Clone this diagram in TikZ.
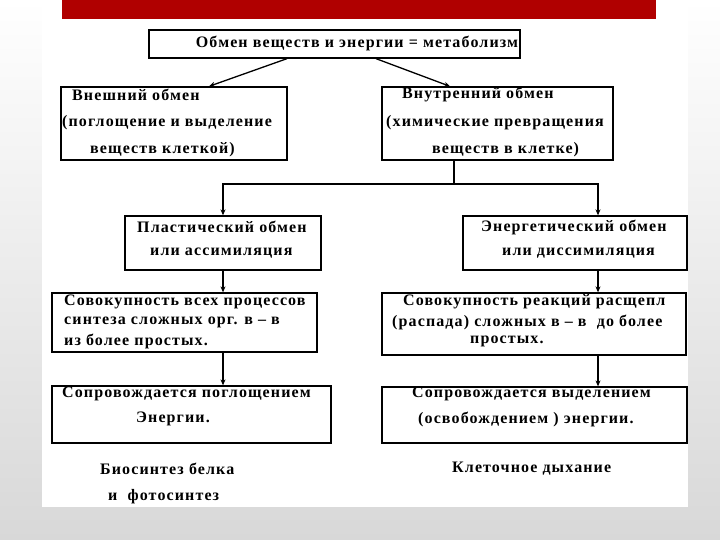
\documentclass[tikz,border=0pt]{standalone}
\usepackage{fontspec}
\setmainfont{Liberation Serif}
\newfontfamily\boxfont[LetterSpace=7]{Liberation Serif}
\usepackage{xcolor}
\usetikzlibrary{positioning,arrows.meta,calc}
\definecolor{slidered}{RGB}{176,0,0}
\definecolor{slidegray}{RGB}{216,216,216}
\newcommand{\lbl}{\boxfont\bfseries\fontsize{16}{18}\selectfont}

\begin{document}
\begin{tikzpicture}[x=1pt, y=-1pt,
		box/.style={draw, line width=1.3pt, inner sep=0pt},
		txt/.style={anchor=west, inner sep=0pt, font=\lbl},
		arr/.style={line width=1.3pt, -{Stealth[length=6pt, width=5pt]}},
		link/.style={line width=1.3pt}]
		\useasboundingbox (0,0) rectangle (720,540);
		% slide background
		\shade[top color=white, bottom color=slidegray] (0,0) rectangle (720,540);
		\fill[white] (42,0) rectangle (688,507);
		\fill[slidered] (62,0) rectangle (656,19);
		% boxes
		\node[box, minimum width=371, minimum height=28] (meta) at (334.5,44) {};
		\node[box, minimum width=226, minimum height=73] (ext) at (174,123.5) {};
		\node[box, minimum width=231, minimum height=73] (int) at (497.5,123.5) {};
		\node[box, minimum width=196, minimum height=54] (plast) at (223,243) {};
		\node[box, minimum width=224, minimum height=54] (energ) at (575,243) {};
		\node[box, minimum width=265, minimum height=59] (synth) at (184.5,322.5) {};
		\node[box, minimum width=304, minimum height=62] (decay) at (534,324) {};
		\node[box, minimum width=279, minimum height=57] (absorb) at (191.5,414.5) {};
		\node[box, minimum width=305, minimum height=56] (release) at (534.5,415) {};
		% texts
		\node[txt, anchor=center] (t0) at (357,43) {Обмен веществ и энергии = метаболизм};
		\node[txt] (t1) at (72,95) {Внешний обмен};
		\node[txt] (t2) at (62,123) {(поглощение и выделение};
		\node[txt] (t3) at (90,150) {веществ клеткой)};
		\node[txt] (t4) at (402,95) {Внутренний обмен};
		\node[txt] (t5) at (386,123) {(химические превращения};
		\node[txt] (t6) at (432,150) {веществ в клетке)};
		\node[txt] (t7) at (137,227) {Пластический обмен};
		\node[txt] (t8) at (150,253) {или ассимиляция};
		\node[txt] (t9) at (481,227) {Энергетический обмен};
		\node[txt] (t10) at (502,253) {или диссимиляция};
		\node[txt] (t11) at (64,302) {Совокупность всех процессов};
		\node[txt] (t12) at (64,322) {синтеза сложных орг. в – в};
		\node[txt] (t13) at (64,341) {из более простых.};
		\node[txt] (t14) at (403,302) {Совокупность реакций расщепл};
		\node[txt] (t15) at (392,322) {(распада) сложных в – в\ \ до более};
		\node[txt] (t16) at (470,341) {простых.};
		\node[txt] (t17) at (62,394) {Сопровождается поглощением};
		\node[txt] (t18) at (136,419) {Энергии.};
		\node[txt] (t19) at (412,394) {Сопровождается выделением};
		\node[txt] (t20) at (418,419) {(освобождением ) энергии.};
		\node[txt] (t21) at (100,469) {Биосинтез белка};
		\node[txt] (t22) at (108,497) {и\ \ фотосинтез};
		\node[txt] (t23) at (452,469) {Клеточное дыхание};
		% connectors
		\draw[arr] ([xshift=-47.5pt]meta.south) -- ([xshift=35pt]ext.north);
		\draw[arr] ([xshift=41.5pt]meta.south) -- ([xshift=-47.5pt]int.north);
		\coordinate (fork) at (454,184);
		\draw[link] ([xshift=-43.5pt]int.south) -- (fork);
		\draw[arr] (fork) -| (plast.north);
		\draw[arr] (fork) -| ([xshift=23pt]energ.north);
		\draw[arr] (plast.south) -- (plast.south |- synth.north);
		\draw[arr] ([xshift=23pt]energ.south) coordinate (r1) -- (r1 |- decay.north);
		\draw[arr] (plast.south |- synth.south) -- (plast.south |- absorb.north);
		\draw[arr] (r1 |- decay.south) -- (r1 |- release.north);
	\end{tikzpicture}
\end{document}
